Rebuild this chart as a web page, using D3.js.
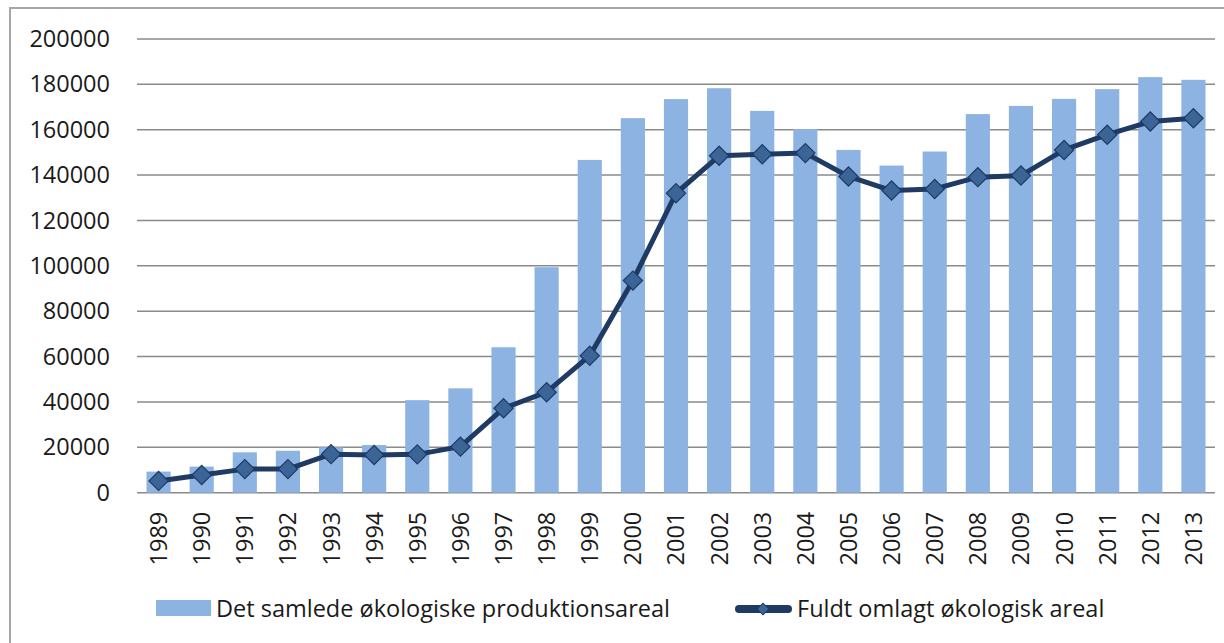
<!DOCTYPE html>
<html>
<head>
<meta charset="utf-8">
<script src="https://cdn.jsdelivr.net/npm/d3@7"></script>
<style>
  body { margin: 0; background: #fff; }
  svg { display: block; }
  text { font-family: "Open Sans", "Liberation Sans", sans-serif; fill: #1a1a1a; }
</style>
</head>
<body>
<svg id="chart" width="1224" height="643"></svg>
<script>
// years on the x axis
var years = ["1989","1990","1991","1992","1993","1994","1995","1996","1997","1998","1999","2000",
  "2001","2002","2003","2004","2005","2006","2007","2008","2009","2010","2011","2012","2013"];

// bars: total organic production area
var totalArea = [9300, 11500, 17800, 18500, 20000, 21000, 40800, 46000, 64100, 99400, 146700, 165100,
  173500, 178300, 168300, 160300, 151100, 144200, 150400, 166900, 170500, 173600, 177900, 183200, 182000];

// line: fully converted organic area
var fullArea = [5200, 7800, 10400, 10400, 17000, 16600, 16900, 20300, 37200, 44300, 60400, 93500,
  132000, 148500, 149200, 149700, 139400, 133200, 133900, 139100, 139800, 151100, 157800, 163600, 165100];

var yTicks = [0, 20000, 40000, 60000, 80000, 100000, 120000, 140000, 160000, 180000, 200000];

var seriesNames = ["Det samlede økologiske produktionsareal", "Fuldt omlagt økologisk areal"];

var barColor = "#8db3e2";
var lineColor = "#1f3a63";
var markerFill = "#3b6497";

var svg = d3.select("#chart");

// outer frame (only the left and top edges fall inside the picture)
svg.append("rect")
  .attr("x", 10).attr("y", 8)
  .attr("width", 1400).attr("height", 800)
  .attr("fill", "none")
  .attr("stroke", "#a6a6a6")
  .attr("stroke-width", 2);

var plot = {left: 137, right: 1215, top: 39, bottom: 492.7};

var x = d3.scaleBand()
  .domain(years)
  .range([plot.left, plot.right])
  .paddingInner(0.44)
  .paddingOuter(0.22);

var y = d3.scaleLinear()
  .domain([0, 200000])
  .range([plot.bottom, plot.top]);

// gridlines
svg.append("g")
  .selectAll("line")
  .data(yTicks)
  .join("line")
  .attr("x1", plot.left)
  .attr("x2", plot.right)
  .attr("y1", function(d) { return y(d); })
  .attr("y2", function(d) { return y(d); })
  .attr("stroke", "#8a8a8a")
  .attr("stroke-width", 1.5);

// y axis labels
var yAxis = d3.axisLeft(y).tickValues(yTicks).tickSize(0).tickPadding(27).tickFormat(d3.format("d"));
var gy = svg.append("g")
  .attr("transform", "translate(" + plot.left + ",0)")
  .call(yAxis);
gy.select(".domain").remove();
gy.selectAll("text")
  .style("font-family", "'Open Sans', sans-serif")
  .style("font-size", "23.5px")
  .attr("fill", "#1a1a1a");

// x axis labels, rotated
var xAxis = d3.axisBottom(x).tickSize(0).tickPadding(0);
var gx = svg.append("g")
  .attr("transform", "translate(0," + plot.bottom + ")")
  .call(xAxis);
gx.select(".domain").remove();
gx.selectAll("text")
  .style("font-family", "'Open Sans', sans-serif")
  .style("font-size", "23.5px")
  .attr("fill", "#1a1a1a")
  .attr("text-anchor", "end")
  .attr("transform", "rotate(-90)")
  .attr("x", -19)
  .attr("y", 0)
  .attr("dy", "0.36em");

// bars
svg.append("g")
  .selectAll("rect")
  .data(years)
  .join("rect")
  .attr("x", function(d) { return x(d); })
  .attr("y", function(d, i) { return y(totalArea[i]); })
  .attr("width", x.bandwidth())
  .attr("height", function(d, i) { return plot.bottom - y(totalArea[i]); })
  .attr("fill", barColor);

// line + diamonds
var cx = function(i) { return x(years[i]) + x.bandwidth() / 2; };
var line = d3.line()
  .x(function(d, i) { return cx(i); })
  .y(function(d) { return y(d); });

svg.append("path")
  .datum(fullArea)
  .attr("d", line)
  .attr("fill", "none")
  .attr("stroke", lineColor)
  .attr("stroke-width", 5)
  .attr("stroke-linejoin", "round");

var diamond = d3.symbol().type(d3.symbolSquare).size(185);
svg.append("g")
  .selectAll("path")
  .data(fullArea)
  .join("path")
  .attr("d", diamond)
  .attr("transform", function(d, i) { return "translate(" + cx(i) + "," + y(d) + ") rotate(45)"; })
  .attr("fill", markerFill)
  .attr("stroke", lineColor)
  .attr("stroke-width", 1.2);

// legend
var legend = svg.append("g").style("font-size", "23.5px");
legend.append("rect")
  .attr("x", 156).attr("y", 600)
  .attr("width", 55).attr("height", 16)
  .attr("fill", barColor);
legend.append("text")
  .attr("x", 216).attr("y", 617)
  .text(seriesNames[0]);

legend.append("line")
  .attr("x1", 739).attr("x2", 788)
  .attr("y1", 609).attr("y2", 609)
  .attr("stroke", lineColor)
  .attr("stroke-width", 8)
  .attr("stroke-linecap", "round");
legend.append("path")
  .attr("d", d3.symbol().type(d3.symbolSquare).size(70))
  .attr("transform", "translate(763,609) rotate(45)")
  .attr("fill", markerFill)
  .attr("stroke", lineColor)
  .attr("stroke-width", 1);
legend.append("text")
  .attr("x", 797).attr("y", 617)
  .text(seriesNames[1]);
</script>
</body>
</html>
